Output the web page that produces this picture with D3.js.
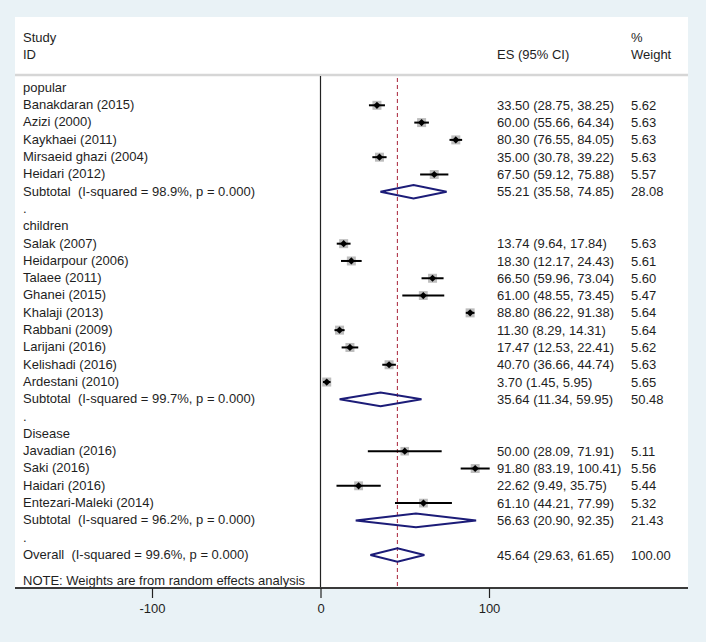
<!DOCTYPE html>
<html><head><meta charset="utf-8">
<script src="https://cdn.jsdelivr.net/npm/d3@7"></script>
<style>
html,body{margin:0;padding:0;background:#e9f2f6;}
svg{display:block;}
text{font-family:"Liberation Sans",Arial,sans-serif;font-size:13px;fill:#1e1e1e;white-space:pre;}
</style></head>
<body>
<svg id="chart" width="706" height="642"></svg>
<script>
// ---- data ----
const groups = ["popular", "children", "Disease"];
const studyNames = ["Banakdaran (2015)", "Azizi (2000)", "Kaykhaei (2011)", "Mirsaeid ghazi (2004)", "Heidari (2012)",
  "Salak (2007)", "Heidarpour (2006)", "Talaee (2011)", "Ghanei (2015)", "Khalaji (2013)", "Rabbani (2009)", "Larijani (2016)", "Kelishadi (2016)", "Ardestani (2010)",
  "Javadian (2016)", "Saki (2016)", "Haidari (2016)", "Entezari-Maleki (2014)"];
const studyGroup = [0,0,0,0,0, 1,1,1,1,1,1,1,1,1, 2,2,2,2];
const studyES = [33.50, 60.00, 80.30, 35.00, 67.50, 13.74, 18.30, 66.50, 61.00, 88.80, 11.30, 17.47, 40.70, 3.70, 50.00, 91.80, 22.62, 61.10];
const studyLo = [28.75, 55.66, 76.55, 30.78, 59.12, 9.64, 12.17, 59.96, 48.55, 86.22, 8.29, 12.53, 36.66, 1.45, 28.09, 83.19, 9.49, 44.21];
const studyHi = [38.25, 64.34, 84.05, 39.22, 75.88, 17.84, 24.43, 73.04, 73.45, 91.38, 14.31, 22.41, 44.74, 5.95, 71.91, 100.41, 35.75, 77.99];
const studyWeight = [5.62, 5.63, 5.63, 5.63, 5.57, 5.63, 5.61, 5.60, 5.47, 5.64, 5.64, 5.62, 5.63, 5.65, 5.11, 5.56, 5.44, 5.32];
const subtotalLabels = ["Subtotal  (I-squared = 98.9%, p = 0.000)", "Subtotal  (I-squared = 99.7%, p = 0.000)", "Subtotal  (I-squared = 96.2%, p = 0.000)"];
const subtotalES = [55.21, 35.64, 56.63];
const subtotalLo = [35.58, 11.34, 20.90];
const subtotalHi = [74.85, 59.95, 92.35];
const subtotalWeight = [28.08, 50.48, 21.43];
const overallLabel = "Overall  (I-squared = 99.6%, p = 0.000)";
const overallES = 45.64, overallLo = 29.63, overallHi = 61.65, overallWeight = 100.00;
const xTicks = [-100, 0, 100];
const xTickLabels = ["-100", "0", "100"];
const noteText = "NOTE: Weights are from random effects analysis";

// ---- layout ----
const svg = d3.select("#chart");
const panelL = 15, panelR = 688, panelT = 17, axisY = 588;
const labelX = 23, esX = 497, wX = 631;

// build rows
const rows = [];
groups.forEach((g, gi) => {
  rows.push({type: "group", label: g});
  studyNames.forEach((n, i) => {
    if (studyGroup[i] === gi) rows.push({type: "study", label: n, es: studyES[i], lo: studyLo[i], hi: studyHi[i], w: studyWeight[i]});
  });
  rows.push({type: "sub", label: subtotalLabels[gi], es: subtotalES[gi], lo: subtotalLo[gi], hi: subtotalHi[gi], w: subtotalWeight[gi]});
  rows.push({type: "dot", label: "."});
});
rows.push({type: "sub", label: overallLabel, es: overallES, lo: overallLo, hi: overallHi, w: overallWeight});

const x = d3.scaleLinear().domain([-100, 100]).range([152, 489]);
const y = d3.scaleLinear().domain([0, rows.length - 1]).range([88, 555]);
const boxSize = d3.scaleSqrt().domain([0, 5.63]).range([0, 9]);

// panel
svg.append("rect").attr("x", panelL).attr("y", panelT).attr("width", panelR - panelL).attr("height", axisY - panelT).attr("fill", "#ffffff");
svg.append("line").attr("x1", panelL).attr("x2", panelR).attr("y1", 75).attr("y2", 75).attr("stroke", "#d6d6d6").attr("stroke-width", 2.5);

// headers
const hdr = svg.append("g");
hdr.append("text").attr("x", labelX).attr("y", 37).attr("dy", "0.35em").text("Study");
hdr.append("text").attr("x", labelX).attr("y", 54).attr("dy", "0.35em").text("ID");
hdr.append("text").attr("x", esX).attr("y", 54).attr("dy", "0.35em").text("ES (95% CI)");
hdr.append("text").attr("x", wX).attr("y", 37).attr("dy", "0.35em").text("%");
hdr.append("text").attr("x", wX).attr("y", 54).attr("dy", "0.35em").text("Weight");

// reference lines
svg.append("line").attr("x1", x(0)).attr("x2", x(0)).attr("y1", 76).attr("y2", axisY).attr("stroke", "#222").attr("stroke-width", 1.2);
svg.append("line").attr("x1", x(overallES)).attr("x2", x(overallES)).attr("y1", 78).attr("y2", axisY)
  .attr("stroke", "#b0364a").attr("stroke-width", 1.1).attr("stroke-dasharray", "4,3");

// rows
const fmt = d3.format(".2f");
rows.forEach((r, i) => {
  const yy = y(i);
  svg.append("text").attr("x", labelX).attr("y", yy).attr("dy", "0.3em").text(r.label);
  if (r.type === "study") {
    const s = boxSize(r.w);
    svg.append("rect").attr("x", x(r.es) - s / 2).attr("y", yy - s / 2).attr("width", s).attr("height", s).attr("fill", "#bdbdbd");
    svg.append("line").attr("x1", x(r.lo)).attr("x2", x(r.hi)).attr("y1", yy).attr("y2", yy).attr("stroke", "#000").attr("stroke-width", 2);
    const d = 3.6;
    svg.append("path").attr("d", `M${x(r.es) - d},${yy}L${x(r.es)},${yy - d}L${x(r.es) + d},${yy}L${x(r.es)},${yy + d}Z`).attr("fill", "#000");
  }
  if (r.type === "sub") {
    const h = 6.8;
    svg.append("path").attr("d", `M${x(r.lo)},${yy}L${x(r.es)},${yy - h}L${x(r.hi)},${yy}L${x(r.es)},${yy + h}Z`)
      .attr("fill", "none").attr("stroke", "#1c1c78").attr("stroke-width", 2);
  }
  if (r.type === "study" || r.type === "sub") {
    svg.append("text").attr("x", esX).attr("y", yy).attr("dy", "0.35em").text(`${fmt(r.es)} (${fmt(r.lo)}, ${fmt(r.hi)})`);
    svg.append("text").attr("x", wX).attr("y", yy).attr("dy", "0.35em").text(fmt(r.w));
  }
});

svg.append("text").attr("x", labelX).attr("y", 580).attr("dy", "0.35em").text(noteText);

// axis
svg.append("line").attr("x1", panelL).attr("x2", panelR).attr("y1", axisY).attr("y2", axisY).attr("stroke", "#3a3a3a").attr("stroke-width", 2);
const axis = d3.axisBottom(x).tickValues(xTicks).tickSize(10).tickPadding(6).tickFormat((d, i) => xTickLabels[i]);
const ag = svg.append("g").attr("transform", `translate(0,${axisY})`).call(axis);
ag.select(".domain").remove();
ag.selectAll(".tick line").attr("stroke", "#222").attr("stroke-width", 1.2);
ag.selectAll(".tick text").attr("font-size", 13).attr("font-family", "Liberation Sans, Arial, sans-serif").attr("fill", "#1e1e1e");
</script>
</body></html>
